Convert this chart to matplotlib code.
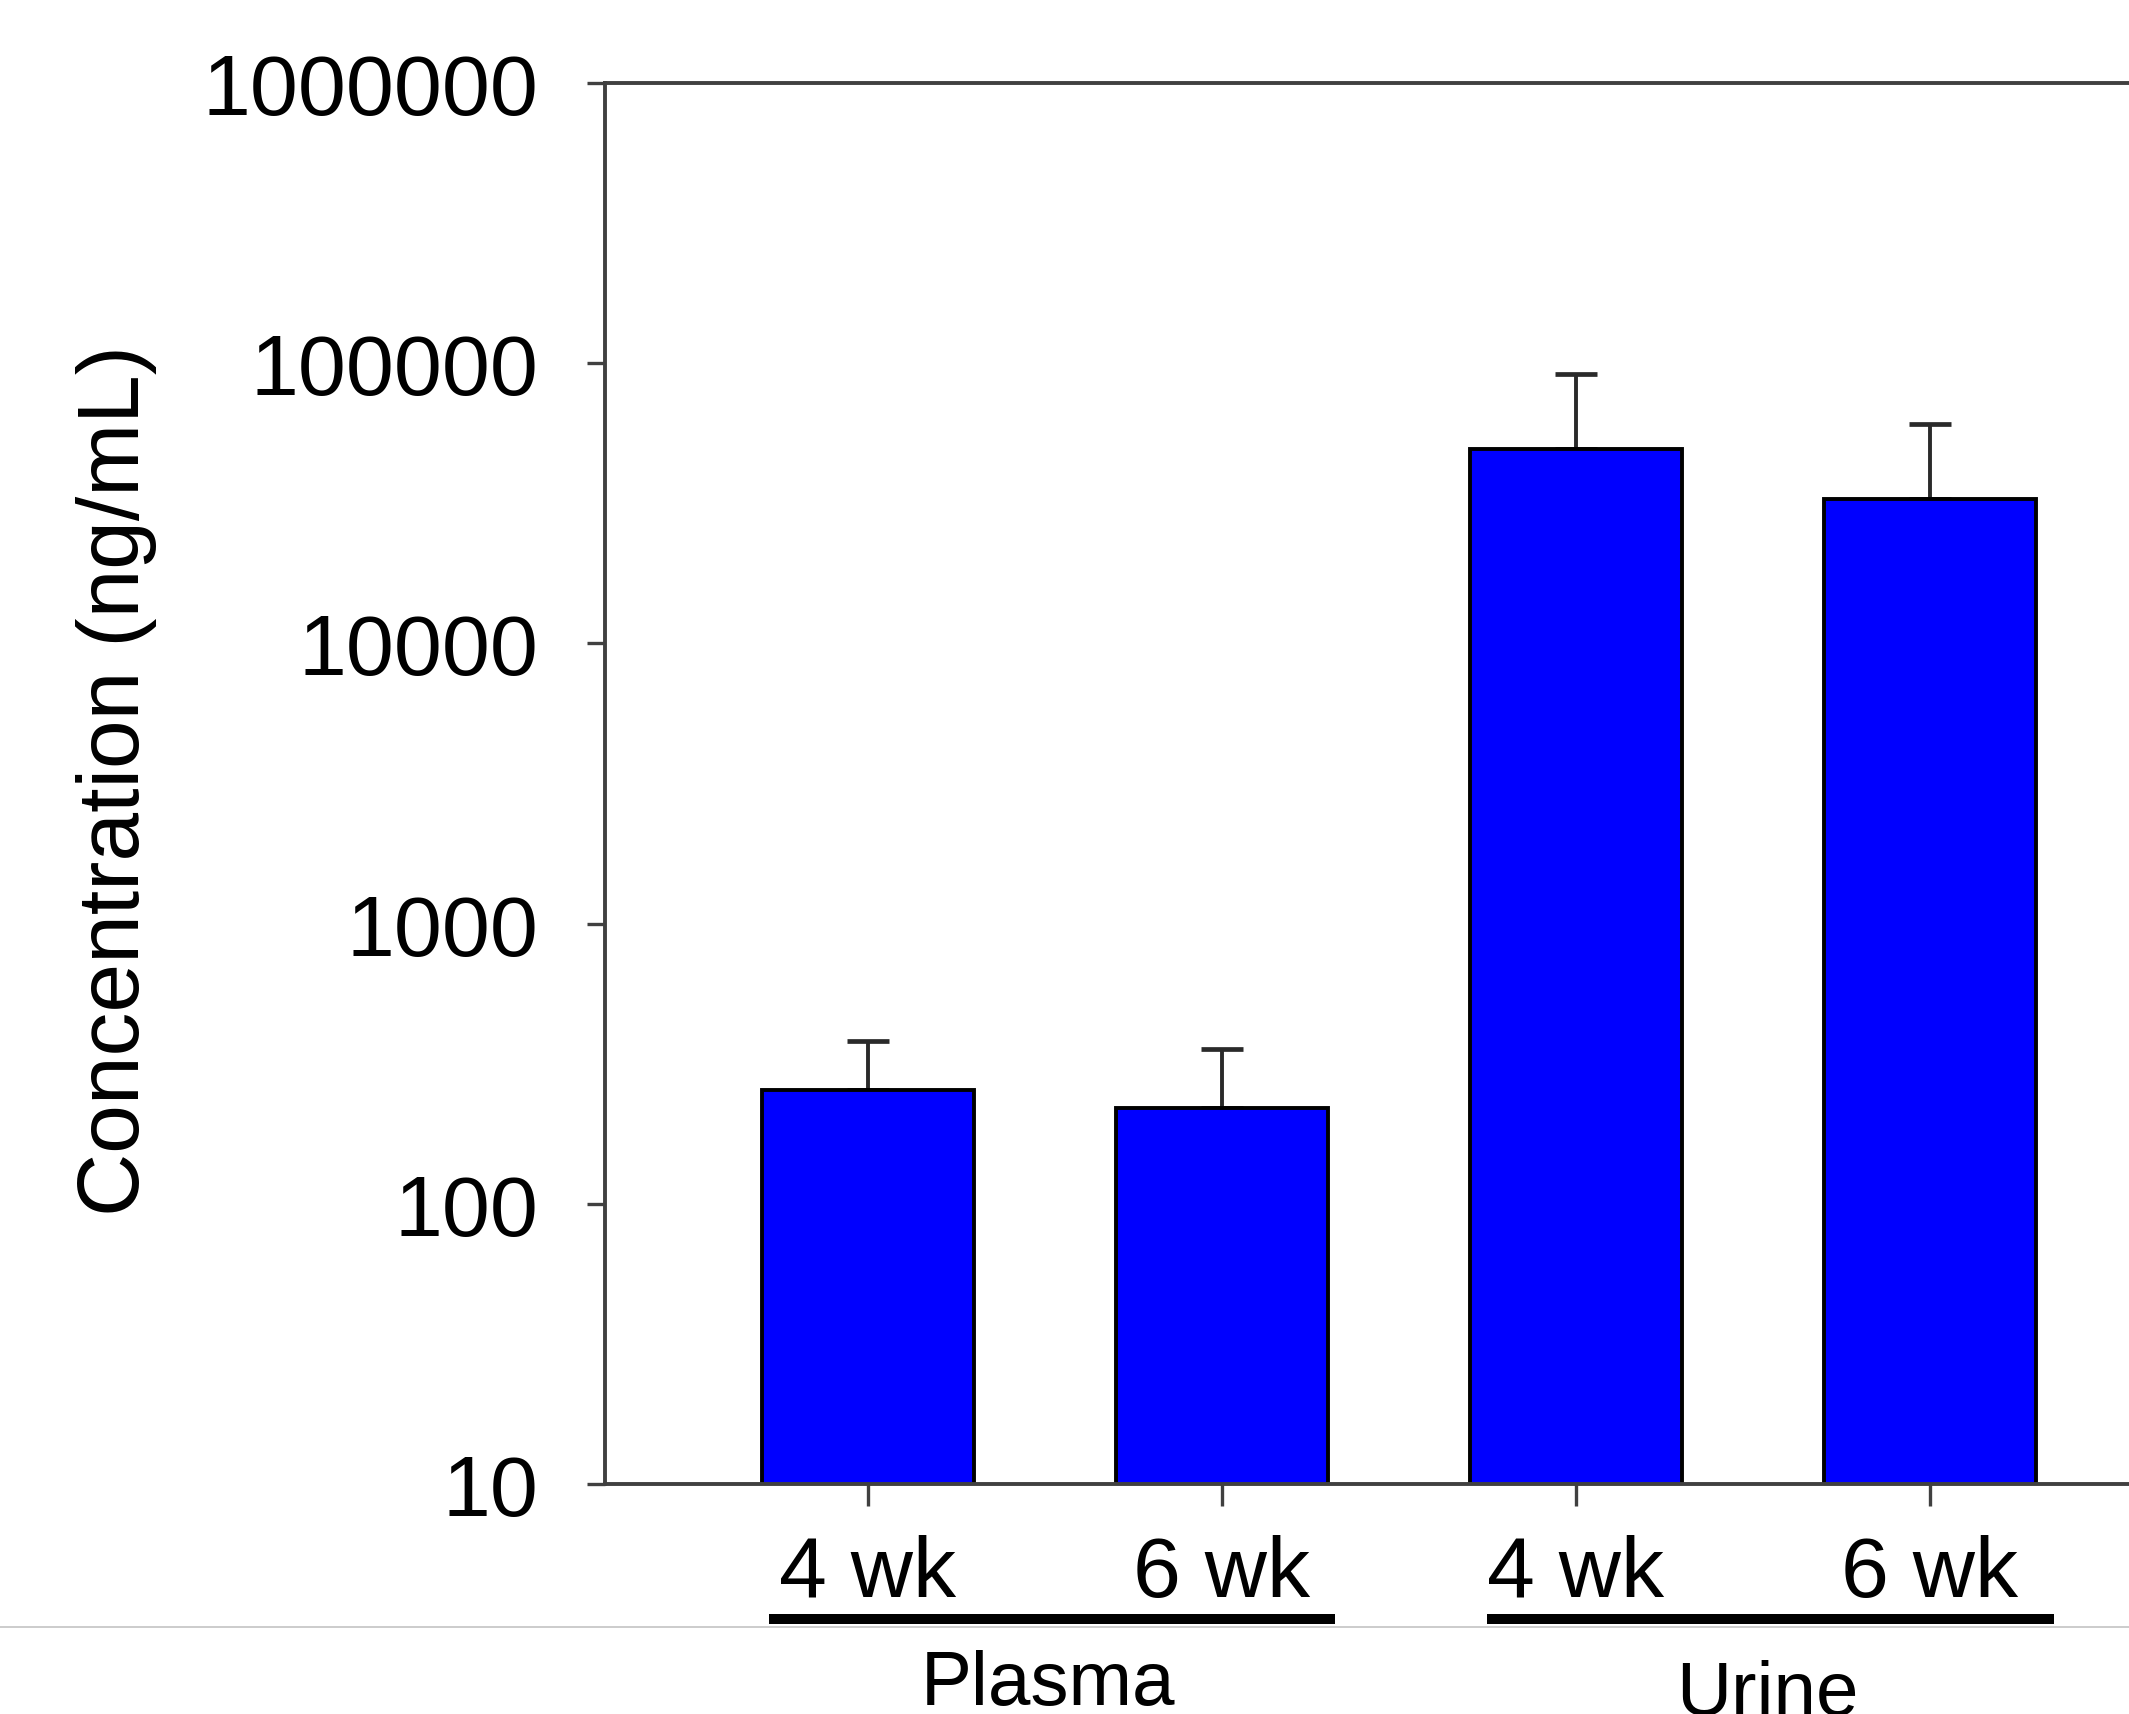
import numpy as np
import matplotlib
matplotlib.use("Agg")
import matplotlib.pyplot as plt
from matplotlib.lines import Line2D
from matplotlib.transforms import blended_transform_factory

plt.rcParams["font.family"] = ["Liberation Sans", "DejaVu Sans"]

# data
week_labels = ["4 wk", "6 wk", "4 wk", "6 wk"]
groups = ["Plasma", "Urine"]
group_members = [[0, 1], [2, 3]]
mean_conc = [255, 220, 49500, 32800]
upper_err = [126, 136, 42000, 28000]
y_ticks = [10, 100, 1000, 10000, 100000, 1000000]

fig = plt.figure(figsize=(21.29, 17.15), dpi=100)
ax = fig.add_axes([0.2842, 1 - 1485 / 1715, 0.7456, (1485 - 84) / 1715])

x = np.arange(1, len(mean_conc) + 1)
ax.errorbar(x, mean_conc, yerr=[np.zeros(len(upper_err)), upper_err],
            fmt="none", ecolor="#2a2a2a", elinewidth=2.8, capsize=15,
            capthick=3.4, zorder=1)
ax.bar(x, mean_conc, width=0.6, color="#0000ff", edgecolor="black",
       linewidth=2.8, zorder=2)

ax.set_yscale("log")
ax.set_ylim(10, 1000000)
ax.set_xlim(0.258, 4.742)
ax.set_yticks(y_ticks)
ax.set_yticklabels([str(t) for t in y_ticks])
ax.yaxis.set_minor_locator(matplotlib.ticker.NullLocator())
ax.set_xticks(x)
ax.set_xticklabels(week_labels)

ax.tick_params(axis="y", direction="out", length=13, width=2.4,
               color="#404040", pad=35, labelsize=62)
ax.tick_params(axis="x", direction="out", length=16, width=2.4,
               color="#404040", pad=20, labelsize=62)
for side in ["left", "bottom", "top"]:
    ax.spines[side].set_color("#404040")
    ax.spines[side].set_linewidth(2.8)
ax.spines["right"].set_visible(False)

ax.set_ylabel("Concentration (ng/mL)", fontsize=63)
ax.yaxis.set_label_coords(157 / 2129, 1 - 781 / 1715, transform=fig.transFigure)

# group underlines and names
trans = blended_transform_factory(ax.transData, fig.transFigure)
label_y = [1 - 1650 / 1715, 1 - 1660 / 1715]
shift = [0.02, 0.05]
for name, idx, ly, dx in zip(groups, group_members, label_y, shift):
    c = x[idx].mean() + dx
    ax.plot([c - 0.8, c + 0.8], [1 - 1620 / 1715] * 2, transform=trans,
            color="black", linewidth=7.2, solid_capstyle="butt", clip_on=False)
    ax.text(c - 0.01, ly, name, transform=trans, ha="center", va="top",
            fontsize=55)

# thin grey rule across the figure
fig.add_artist(Line2D([0, 1], [1 - 1628 / 1715] * 2, color="#c8c8c8",
                      linewidth=1.3, transform=fig.transFigure))

fig.savefig("out.png", dpi=100)
